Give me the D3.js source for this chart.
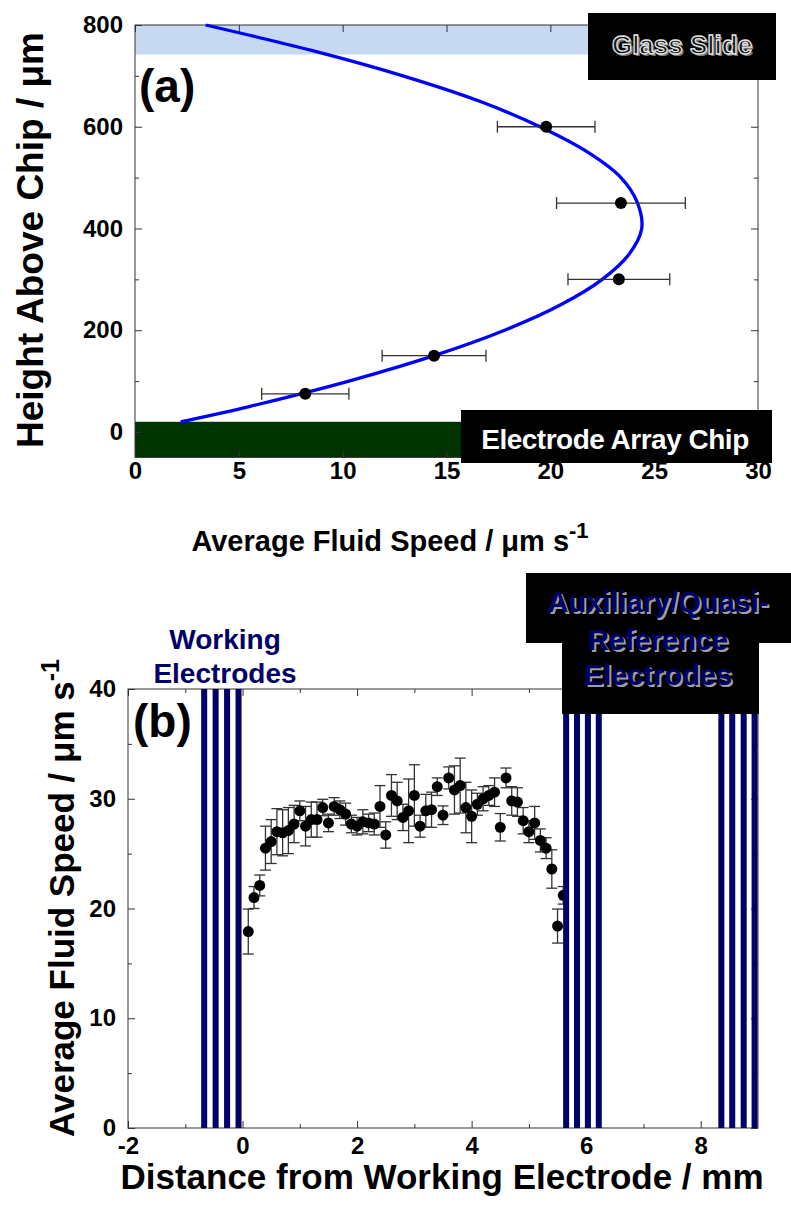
<!DOCTYPE html>
<html><head><meta charset="utf-8">
<script src="https://cdn.jsdelivr.net/npm/d3@7"></script>
<style>body{margin:0;background:#fff}svg{display:block}text{font-family:"Liberation Sans",Arial,sans-serif;font-weight:bold}</style>
</head><body>
<svg id="c" width="791" height="1211"></svg>
<script>
// ---- Panel (a) data ----
const heightsA = [75, 150, 300, 450, 600];
const speedsA = [8.2, 14.4, 23.3, 23.4, 19.8];
const speedErrA = [2.1, 2.5, 2.45, 3.1, 2.35];
const fitHeights = [20, 50, 100, 150, 200, 250, 300, 350, 400, 450, 500, 550, 600, 650, 700, 750, 800];
const fitSpeeds = [2.2, 5.5, 10.3, 14.4, 17.8, 20.5, 22.5, 23.8, 24.4, 24.2, 23.4, 21.8, 19.5, 16.6, 12.9, 8.5, 3.4];
const xTicksA = [0, 5, 10, 15, 20, 25, 30];
const yTicksA = [0, 200, 400, 600, 800];

// ---- Panel (b) data ----
const distB = [0.1,0.2,0.3,0.4,0.5,0.6,0.7,0.8,0.9,1.0,1.1,1.2,1.3,1.4,1.5,1.6,1.7,1.8,1.9,2.0,2.1,2.2,2.3,2.4,2.5,2.6,2.7,2.8,2.9,3.0,3.1,3.2,3.3,3.4,3.5,3.6,3.7,3.8,3.9,4.0,4.1,4.2,4.3,4.4,4.5,4.6,4.7,4.8,4.9,5.0,5.1,5.2,5.3,5.4,5.5,5.6];
const speedB = [17.9,21.0,22.1,25.5,26.1,27.0,26.9,27.1,27.7,28.9,27.5,28.1,28.1,29.2,27.8,29.3,29.0,28.6,27.7,27.5,27.9,27.8,27.7,29.3,26.7,30.3,29.8,28.3,28.9,30.3,27.5,28.9,29.0,31.1,28.5,31.9,30.8,31.2,29.2,28.4,29.5,30.0,30.3,30.6,27.4,31.9,29.8,29.7,28.0,27.0,27.8,26.2,25.5,23.6,18.4,21.2];
const errB = [2.05,1.0,0.95,2.0,2.0,2.1,2.1,2.1,1.7,0.9,1.8,1.6,1.6,0.75,0.8,0.8,0.8,1.0,0.8,0.8,1.1,0.8,1.0,1.9,1.2,1.9,1.7,1.2,2.9,2.8,1.0,1.5,1.6,0.8,0.85,1.0,2.2,2.5,2.3,2.4,1.0,1.1,0.9,1.3,1.25,0.9,1.3,1.3,1.2,1.0,1.5,1.05,0.95,1.75,1.55,0.8];
const electrodeCenters = [-0.67,-0.47,-0.27,-0.07, 5.65,5.84,6.03,6.22, 8.36,8.55,8.75,8.94];
const xTicksB = [-2, 0, 2, 4, 6, 8];
const yTicksB = [0, 10, 20, 30, 40];

const svg = d3.select("#c");
const navy = "#000066";
const fmt = d => String(d);

// ================= Panel (a) =================
const xa = d3.scaleLinear().domain([0, 30]).range([135, 758]);
const ya = d3.scaleLinear().domain([-50, 800]).range([457.4, 25]);
const A = svg.append("g");

A.append("rect").attr("x", xa(0)).attr("y", ya(800)).attr("width", xa(30) - xa(0)).attr("height", ya(742) - ya(800)).attr("fill", "#c6d9f0");
A.append("rect").attr("x", xa(0)).attr("y", ya(20)).attr("width", xa(30) - xa(0)).attr("height", ya(-50) - ya(20)).attr("fill", "#003300");

function styleAxis(s, withText) {
  s.select(".domain").remove();
  s.selectAll("line").attr("stroke", "#333");
  if (withText) s.selectAll("text").attr("font-size", 24).attr("fill", "#000").attr("font-family", "Liberation Sans, Arial").attr("font-weight", "bold");
}
function frame(g, x, y, xt, xminor, yt, yminor, xpad) {
  const [x0, x1] = x.range(); const [y0, y1] = y.range();
  g.append("g").attr("transform", `translate(0,${y0})`).call(d3.axisBottom(x).tickValues(xt).tickSize(-7).tickPadding(xpad).tickFormat(fmt)).call(s => styleAxis(s, true));
  g.append("g").attr("transform", `translate(0,${y0})`).call(d3.axisBottom(x).tickValues(xminor).tickSize(-4).tickFormat("")).call(s => styleAxis(s, false));
  g.append("g").attr("transform", `translate(0,${y1})`).call(d3.axisTop(x).tickValues(xt).tickSize(-7).tickFormat("")).call(s => styleAxis(s, false));
  g.append("g").attr("transform", `translate(0,${y1})`).call(d3.axisTop(x).tickValues(xminor).tickSize(-4).tickFormat("")).call(s => styleAxis(s, false));
  g.append("g").attr("transform", `translate(${x0},0)`).call(d3.axisLeft(y).tickValues(yt).tickSize(-7).tickPadding(12).tickFormat(fmt)).call(s => styleAxis(s, true));
  g.append("g").attr("transform", `translate(${x0},0)`).call(d3.axisLeft(y).tickValues(yminor).tickSize(-4).tickFormat("")).call(s => styleAxis(s, false));
  g.append("g").attr("transform", `translate(${x1},0)`).call(d3.axisRight(y).tickValues(yt).tickSize(-7).tickFormat("")).call(s => styleAxis(s, false));
  g.append("g").attr("transform", `translate(${x1},0)`).call(d3.axisRight(y).tickValues(yminor).tickSize(-4).tickFormat("")).call(s => styleAxis(s, false));
  g.append("rect").attr("x", x0).attr("y", y1).attr("width", x1 - x0).attr("height", y0 - y1).attr("fill", "none").attr("stroke", "#333").attr("stroke-width", 1);
}
frame(A, xa, ya, xTicksA, [], yTicksA, [100, 300, 500, 700], 5);

A.append("path").datum(fitHeights.map((h, i) => [fitSpeeds[i], h]))
  .attr("d", d3.line().x(d => xa(d[0])).y(d => ya(d[1])).curve(d3.curveCatmullRom))
  .attr("fill", "none").attr("stroke", "#0000ff").attr("stroke-width", 3.3);

const eb = A.append("g").attr("stroke", "#333").attr("stroke-width", 1.3);
heightsA.forEach((h, i) => {
  const lo = xa(speedsA[i] - speedErrA[i]), hi = xa(speedsA[i] + speedErrA[i]), yy = ya(h);
  eb.append("line").attr("x1", lo).attr("x2", hi).attr("y1", yy).attr("y2", yy);
  eb.append("line").attr("x1", lo).attr("x2", lo).attr("y1", yy - 6).attr("y2", yy + 6);
  eb.append("line").attr("x1", hi).attr("x2", hi).attr("y1", yy - 6).attr("y2", yy + 6);
});
A.selectAll("circle.pa").data(heightsA).join("circle").attr("class", "pa")
  .attr("cx", (d, i) => xa(speedsA[i])).attr("cy", d => ya(d)).attr("r", 6).attr("fill", "#000");

A.append("rect").attr("x", 588).attr("y", 13).attr("width", 188).attr("height", 67).attr("fill", "#000");
A.append("text").attr("x", 684).attr("y", 56).attr("text-anchor", "middle").attr("font-size", 26).attr("fill", "#777").text("Glass Slide");
A.append("text").attr("x", 682).attr("y", 54).attr("text-anchor", "middle").attr("font-size", 26).attr("fill", "#151515").attr("stroke", "#e6e6e6").attr("stroke-width", 1.3).text("Glass Slide");
A.append("rect").attr("x", 461).attr("y", 410).attr("width", 311).attr("height", 53).attr("fill", "#000");
A.append("text").attr("x", 615).attr("y", 449).attr("text-anchor", "middle").attr("font-size", 28).attr("fill", "#fff").attr("letter-spacing", -0.5).text("Electrode Array Chip");
A.append("text").attr("x", 139).attr("y", 102).attr("font-size", 46).text("(a)");

A.append("text").attr("transform", "translate(43,240) rotate(-90)").attr("text-anchor", "middle").attr("font-size", 37).text("Height Above Chip / μm");
const tA = A.append("text").attr("x", 390).attr("y", 551).attr("text-anchor", "middle").attr("font-size", 29);
tA.append("tspan").text("Average Fluid Speed / μm s");
tA.append("tspan").attr("font-size", 22).attr("dy", -13).text("-1");

// ================= Panel (b) =================
const xb = d3.scaleLinear().domain([-2, 9]).range([128, 758]);
const yb = d3.scaleLinear().domain([0, 40]).range([1128, 689]);
const B = svg.append("g");
frame(B, xb, yb, xTicksB, [-1, 1, 3, 5, 7], yTicksB, [5, 15, 25, 35], 9);

const ebB = B.append("g").attr("stroke", "#333").attr("stroke-width", 1.3);
distB.forEach((x, i) => {
  const xx = xb(x), lo = yb(speedB[i] - errB[i]), hi = yb(speedB[i] + errB[i]);
  ebB.append("line").attr("x1", xx).attr("x2", xx).attr("y1", lo).attr("y2", hi);
  ebB.append("line").attr("x1", xx - 5.5).attr("x2", xx + 5.5).attr("y1", lo).attr("y2", lo);
  ebB.append("line").attr("x1", xx - 5.5).attr("x2", xx + 5.5).attr("y1", hi).attr("y2", hi);
});
B.selectAll("circle.pb").data(distB).join("circle").attr("class", "pb")
  .attr("cx", d => xb(d)).attr("cy", (d, i) => yb(speedB[i])).attr("r", 5.5).attr("fill", "#000");

const bw = xb(0.105) - xb(0);
B.selectAll("rect.el").data(electrodeCenters).join("rect").attr("class", "el")
  .attr("x", d => xb(d) - bw / 2).attr("y", yb(40)).attr("width", bw).attr("height", yb(0) - yb(40)).attr("fill", navy);

B.append("text").attr("x", 225).attr("y", 649).attr("text-anchor", "middle").attr("font-size", 28).attr("fill", navy).text("Working");
B.append("text").attr("x", 225).attr("y", 683).attr("text-anchor", "middle").attr("font-size", 28).attr("fill", navy).text("Electrodes");

B.append("rect").attr("x", 526).attr("y", 573).attr("width", 265).attr("height", 70).attr("fill", "#000");
B.append("rect").attr("x", 562).attr("y", 642).attr("width", 197).attr("height", 72).attr("fill", "#000");
[["Auxiliary/Quasi-", 612], ["Reference", 650], ["Electrodes", 685]].forEach(([t, y]) => {
  B.append("text").attr("x", 660).attr("y", y + 2).attr("text-anchor", "middle").attr("font-size", 29).attr("fill", "#a0a0a0").text(t);
  B.append("text").attr("x", 658).attr("y", y).attr("text-anchor", "middle").attr("font-size", 29).attr("fill", navy).text(t);
});
B.append("text").attr("x", 133).attr("y", 737).attr("font-size", 46).text("(b)");

const tB = B.append("text").attr("transform", "translate(74,898) rotate(-90)").attr("text-anchor", "middle").attr("font-size", 35);
tB.append("tspan").text("Average Fluid Speed / μm s");
tB.append("tspan").attr("font-size", 25).attr("dy", -15).text("-1");
B.append("text").attr("x", 442).attr("y", 1189).attr("text-anchor", "middle").attr("font-size", 35).text("Distance from Working Electrode / mm");
</script>
</body></html>
